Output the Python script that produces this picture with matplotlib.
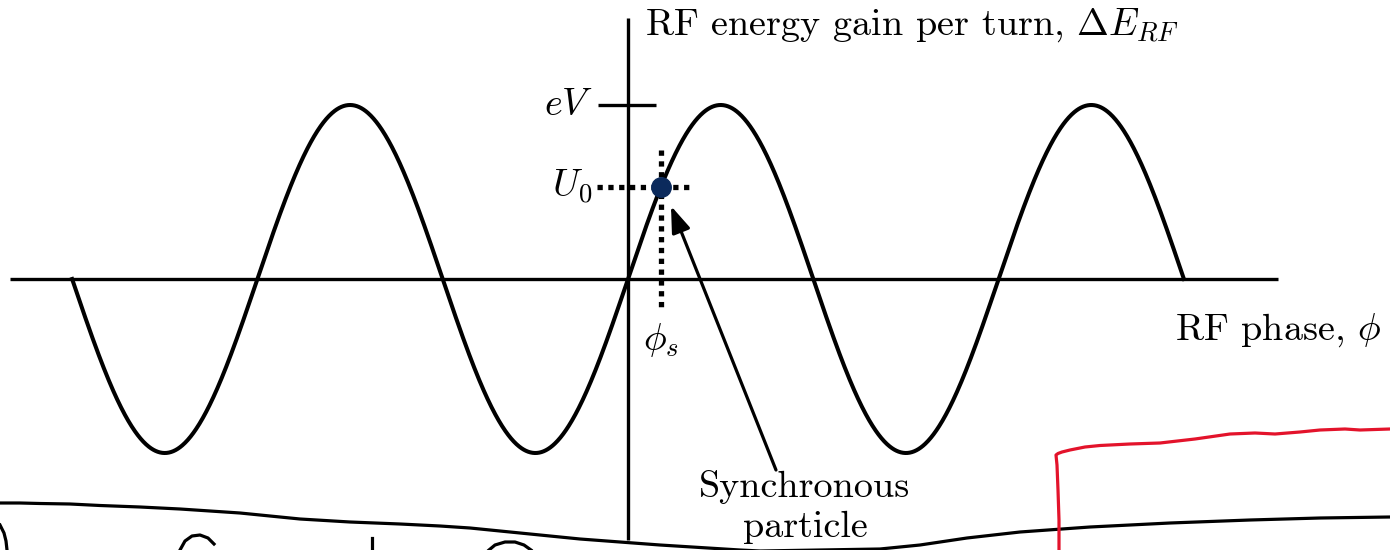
import numpy as np
import matplotlib
matplotlib.use("Agg")
import matplotlib.pyplot as plt
from matplotlib.transforms import Affine2D

plt.rcParams["mathtext.fontset"] = "cm"
plt.rcParams["font.family"] = ["cmr10", "DejaVu Serif"]
plt.rcParams["axes.unicode_minus"] = False

# RF voltage model: energy gain per turn = eV * sin(phi)
eV = 1.0
U0 = 0.53
n_half_periods = 3          # curve spans -3*pi .. 3*pi
phi_s = np.arcsin(U0 / eV)

# hand-drawn strokes over the sketch (figure pixels, y down)
stroke_black_x = [0, 20, 40, 70, 100, 140, 180, 210, 240, 270, 300, 350, 400, 440,
                  470, 500, 540, 580, 620, 660, 700, 740, 780, 820, 850, 880,
                  920, 967, 1020, 1090, 1170, 1250, 1320, 1390]
stroke_black_y = [503, 503, 503.5, 504, 505.5, 507, 509, 511, 513, 516, 519, 522, 524, 526,
                  528, 531, 535, 539, 542, 545, 547.5, 550, 552, 552, 551, 549,
                  545, 538, 532, 527, 523, 520, 518, 517]
stroke_red_x = [1059, 1059, 1058, 1057, 1056, 1058, 1062, 1070, 1085, 1100, 1130, 1160,
                1195, 1230, 1255, 1275, 1300, 1320, 1345, 1360, 1375, 1390]
stroke_red_y = [550, 520, 490, 465, 455, 453.5, 452, 450, 447, 445.5, 444, 443,
                439, 434, 433, 434, 432, 430, 429, 430, 429.5, 429]

# small pen fragments along the bottom edge
frag_x = [[0, 4, 6, 7],
          [180, 185, 192, 200, 208, 214],
          [372, 372],
          [489, 495, 505, 515, 524, 531]]
frag_y = [[525, 533, 541, 550],
          [550, 541, 536, 535, 538, 544],
          [538, 550],
          [550, 545, 542, 542, 545, 550]]

W, H = 1390, 550
px_per_rad = 185.3 / np.pi
px_per_amp = 174.0
x0, y0 = 628, 279
FS = 27.5

fig = plt.figure(figsize=(W / 100, H / 100), dpi=100)
ax = fig.add_axes([0, 0, 1, 1])
ax.set_xlim(-x0 / px_per_rad, (W - x0) / px_per_rad)
ax.set_ylim(-(H - y0) / px_per_amp, y0 / px_per_amp)
ax.axis("off")


def to_data(px, py):
    return (px - x0) / px_per_rad, (y0 - py) / px_per_amp


# axes of the diagram
xl, _ = to_data(10, 0)
xr, _ = to_data(1278, 0)
_, yt = to_data(0, 18)
_, yb = to_data(0, 540)
ax.plot([xl, xr], [0, 0], color="black", lw=2.4, solid_capstyle="butt")
ax.plot([0, 0], [yb, yt], color="black", lw=2.4, solid_capstyle="butt")

# RF wave
phi = np.linspace(-n_half_periods * np.pi, n_half_periods * np.pi, 2000)
ax.plot(phi, eV * np.sin(phi), color="black", lw=2.9)

# eV tick
tl, _ = to_data(598, 0)
tr, _ = to_data(656, 0)
ax.plot([tl, tr], [eV, eV], color="black", lw=2.4, solid_capstyle="butt")
ax.text(tl - 0.08, eV, r"$eV$", ha="right", va="center", fontsize=FS)

# dotted guides through the synchronous point
dl, _ = to_data(597, 0)
dr, _ = to_data(694, 0)
_, dtop = to_data(0, 150)
_, dbot = to_data(0, 312)
dots = dict(color="black", lw=3.8, linestyle=(0, (1, 1.05)), dash_capstyle="butt")
ax.plot([dl, dr], [U0, U0], **dots)
ax.plot([phi_s, phi_s], [dtop, dbot], **dots)
ax.text(dl - 0.08, U0, r"$U_0$", ha="right", va="center", fontsize=FS)
ax.text(phi_s, dbot - 0.05, r"$\phi_s$", ha="center", va="top", fontsize=FS)

ax.plot([phi_s], [U0], "o", color="#0b2a5c", markersize=14, zorder=5)

# arrow to the synchronous particle
tip = to_data(671, 206)
tail = to_data(776, 470)
ax.annotate("", xy=tip, xytext=tail,
            arrowprops=dict(arrowstyle="-|>,head_length=1.0,head_width=0.36",
                            color="black", lw=2.3, shrinkA=0, shrinkB=0,
                            mutation_scale=16))
tx, ty = to_data(805, 487)
ax.text(tx, ty, "Synchronous", ha="center", va="center", fontsize=FS)
tx, ty = to_data(805, 527)
ax.text(tx, ty, "particle", ha="center", va="center", fontsize=FS)

# axis titles
tx, ty = to_data(645, 25)
ax.text(tx, ty, r"RF energy gain per turn, $\Delta E_{RF}$", ha="left", va="center", fontsize=FS)
tx, ty = to_data(1381, 330)
ax.text(tx, ty, r"RF phase, $\phi$", ha="right", va="center", fontsize=FS)

# pen strokes in pixel space
pix = Affine2D().scale(1 / W, -1 / H).translate(0, 1) + fig.transFigure
ax.plot(stroke_black_x, stroke_black_y, color="black", lw=2.3, transform=pix,
        clip_on=False, solid_joinstyle="round")
for fx, fy in zip(frag_x, frag_y):
    ax.plot(fx, fy, color="black", lw=2.3, transform=pix, clip_on=False,
            solid_joinstyle="round")
ax.plot(stroke_red_x, stroke_red_y, color="#e3132b", lw=2.3, transform=pix,
        clip_on=False, solid_joinstyle="round")

fig.savefig("out.png", dpi=100)
